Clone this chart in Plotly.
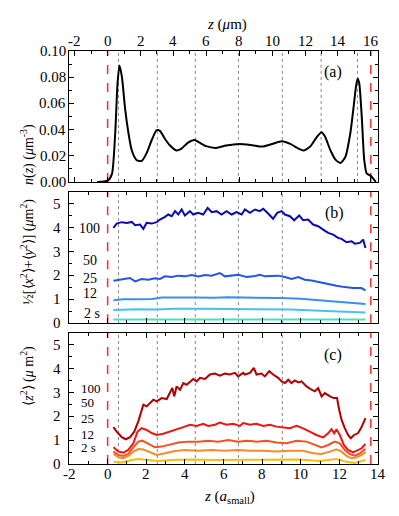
import plotly.graph_objects as go

# ---------------- data ----------------
# panel (a): density profile, z in micrometres
a_z = [-0.64, 0, 0.26, 0.46, 0.6, 0.72, 0.87, 1.07, 1.27, 1.47, 1.77, 2.07, 2.37, 2.68, 2.98, 3.18,
       3.48, 3.78, 4.18, 4.49, 4.89, 5.29, 5.59, 5.99, 6.6, 7.2, 8.0, 8.8, 9.4, 10.0, 10.6, 11.1,
       11.6, 11.9, 12.3, 12.7, 13.0, 13.2, 13.55, 13.85, 14.15, 14.45, 14.75, 14.95, 15.1, 15.2,
       15.3, 15.45, 15.6, 15.75, 15.95, 16.15, 16.3]
a_n = [0, 0.001, 0.006, 0.037, 0.075, 0.089, 0.08, 0.055, 0.037, 0.024, 0.0166, 0.016, 0.022, 0.032,
       0.0395, 0.039, 0.033, 0.028, 0.024, 0.0255, 0.030, 0.032, 0.030, 0.0273, 0.026, 0.0278, 0.029,
       0.028, 0.027, 0.029, 0.031, 0.029, 0.0255, 0.024, 0.0268, 0.034, 0.038, 0.035, 0.024, 0.017,
       0.0145, 0.019, 0.037, 0.057, 0.073, 0.079, 0.075, 0.0495, 0.0166, 0.0064, 0.005, 0.0025, 0]

# panel (b): lateral MSD, z in a_small
b100_z = [0.30, 0.47, 0.73, 0.99, 1.25, 1.42, 1.68, 1.85, 2.02, 2.28, 2.54, 2.71, 2.97, 3.14, 3.32,
          3.49, 3.66, 3.83, 4.00, 4.26, 4.43, 4.69, 4.95, 5.18, 5.39, 5.64, 5.90, 6.16, 6.42, 6.68,
          6.94, 7.11, 7.37, 7.63, 7.88, 8.06, 8.31, 8.57, 8.78, 9.01, 9.18, 9.44, 9.66, 9.92, 10.12,
          10.38, 10.64, 10.90, 11.16, 11.42, 11.68, 11.93, 12.11, 12.37, 12.63, 12.80, 13.06, 13.23, 13.35]
b100_v = [3.99, 4.17, 4.23, 4.20, 4.24, 4.10, 4.13, 3.95, 4.20, 4.17, 4.23, 4.34, 4.45, 4.55, 4.48,
          4.69, 4.55, 4.76, 4.51, 4.69, 4.55, 4.62, 4.55, 4.83, 4.65, 4.69, 4.55, 4.69, 4.55, 4.65,
          4.55, 4.76, 4.62, 4.76, 4.69, 4.79, 4.59, 4.37, 4.62, 4.69, 4.55, 4.48, 4.31, 4.51, 4.31,
          4.34, 4.13, 4.06, 3.92, 3.78, 3.71, 3.57, 3.53, 3.39, 3.43, 3.33, 3.36, 3.50, 3.15]
b50_z = [0.30, 0.73, 1.16, 1.42, 1.76, 2.11, 2.45, 2.71, 2.97, 3.32, 3.66, 4.00, 4.35, 4.69, 5.04,
         5.39, 5.81, 6.07, 6.42, 6.77, 7.07, 7.20, 7.54, 7.89, 8.15, 8.49, 8.84, 9.18, 9.53, 9.87,
         10.21, 10.56, 10.99, 11.42, 11.85, 12.28, 12.71, 13.14, 13.35]
b50_v = [1.78, 1.85, 1.89, 1.75, 1.85, 1.82, 1.88, 1.85, 1.96, 1.93, 1.99, 1.96, 2.02, 1.96, 2.02,
         1.99, 2.10, 1.96, 1.99, 2.03, 1.96, 1.93, 1.96, 2.03, 1.96, 1.96, 1.99, 1.93, 1.85, 1.93,
         1.82, 1.79, 1.71, 1.65, 1.57, 1.51, 1.47, 1.47, 1.37]
b25_z = [0.30, 0.8, 1.5, 2.3, 2.8, 3.5, 4.5, 5.5, 6.2, 7.0, 8.0, 9.0, 10.0, 11.0, 12.0, 12.8, 13.35]
b25_v = [0.96, 1.00, 1.00, 1.01, 1.07, 1.08, 1.07, 1.06, 1.09, 1.07, 1.07, 1.05, 1.02, 0.95, 0.87, 0.83, 0.80]
b12_z = [0.30, 1.5, 2.5, 3.5, 5.0, 6.5, 8.0, 9.5, 11.0, 12.3, 13.35]
b12_v = [0.55, 0.58, 0.57, 0.60, 0.60, 0.60, 0.59, 0.57, 0.52, 0.48, 0.45]
b2_z = [0.30, 3.0, 6.0, 9.0, 12.0, 13.35]
b2_v = [0.15, 0.15, 0.15, 0.15, 0.15, 0.15]

# panel (c): normal MSD, z in a_small
c100_z = [0.30, 0.47, 0.73, 0.94, 1.16, 1.38, 1.59, 1.73, 1.85, 2.02, 2.19, 2.37, 2.54, 2.80, 3.06,
          3.23, 3.35, 3.45, 3.57, 3.75, 3.92, 4.09, 4.26, 4.43, 4.61, 4.78, 5.04, 5.30, 5.56, 5.81,
          6.07, 6.33, 6.59, 6.76, 7.02, 7.11, 7.37, 7.57, 7.71, 7.97, 8.14, 8.37, 8.57, 8.83, 9.01,
          9.18, 9.35, 9.52, 9.69, 9.87, 10.04, 10.30, 10.56, 10.73, 10.90, 11.08, 11.25, 11.51,
          11.71, 11.88, 11.97, 12.11, 12.28, 12.45, 12.59, 12.76, 12.97, 13.15, 13.35]
c100_v = [1.55, 1.36, 1.13, 1.04, 1.13, 1.36, 1.79, 2.14, 2.49, 2.42, 2.56, 2.70, 2.63, 2.77, 2.73,
          2.98, 3.19, 2.84, 3.26, 3.12, 3.40, 3.33, 3.47, 3.57, 3.47, 3.62, 3.57, 3.76, 3.80, 3.71,
          3.80, 3.76, 3.83, 3.68, 3.83, 3.76, 3.83, 4.04, 3.76, 3.80, 3.68, 3.90, 3.76, 3.62, 3.47,
          3.40, 3.54, 3.40, 3.51, 3.43, 3.47, 3.26, 3.12, 3.05, 3.19, 2.84, 2.98, 2.84,
          2.77, 2.77, 2.35, 1.86, 1.51, 1.22, 1.08, 1.22, 1.30, 1.55, 1.93]
c50_z = [0.30, 0.56, 0.82, 1.07, 1.33, 1.55, 1.76, 2.02, 2.28, 2.54, 2.88, 3.23, 3.57, 3.92, 4.26,
         4.61, 4.95, 5.21, 5.56, 5.81, 6.16, 6.50, 6.85, 7.02, 7.37, 7.71, 8.06, 8.40, 8.74, 9.09,
         9.44, 9.78, 10.12, 10.47, 10.81, 11.16, 11.42, 11.59, 11.73, 11.85, 12.02, 12.23, 12.45,
         12.71, 12.97, 13.15, 13.35]
c50_v = [0.70, 0.52, 0.48, 0.59, 0.87, 1.36, 1.51, 1.43, 1.30, 1.22, 1.27, 1.36, 1.43, 1.55, 1.65,
         1.60, 1.69, 1.60, 1.65, 1.74, 1.65, 1.69, 1.60, 1.72, 1.65, 1.69, 1.60, 1.65, 1.57, 1.55,
         1.50, 1.60, 1.50, 1.36, 1.22, 1.12, 1.29, 1.46, 1.29, 1.46, 1.22, 0.80, 0.59,
         0.49, 0.59, 0.66, 0.84]
c25_z = [0.30, 0.56, 0.82, 1.07, 1.33, 1.59, 1.80, 2.11, 2.45, 2.80, 3.23, 3.66, 4.18, 4.69, 5.21,
         5.73, 6.25, 6.76, 7.20, 7.71, 8.23, 8.74, 9.26, 9.78, 10.30, 10.73, 11.08, 11.42, 11.76,
         12.02, 12.28, 12.54, 12.80, 13.06, 13.35]
c25_v = [0.52, 0.38, 0.34, 0.42, 0.70, 0.94, 0.98, 0.84, 0.70, 0.73, 0.80, 0.90, 0.94, 0.94, 0.98,
         0.94, 1.01, 0.94, 0.98, 0.94, 0.98, 0.90, 0.87, 0.98, 0.94, 0.80, 0.70, 0.80, 0.94,
         0.87, 0.59, 0.42, 0.35, 0.45, 0.63]
c12_z = [0.30, 0.56, 0.82, 1.07, 1.33, 1.59, 1.85, 2.19, 2.54, 2.97, 3.49, 4.00, 4.69, 5.38, 6.07,
         6.76, 7.37, 8.06, 8.74, 9.44, 10.12, 10.64, 11.08, 11.51, 11.85, 12.11, 12.37, 12.63,
         12.89, 13.15, 13.35]
c12_v = [0.42, 0.28, 0.24, 0.34, 0.52, 0.63, 0.61, 0.48, 0.38, 0.45, 0.55, 0.59, 0.56, 0.59, 0.56,
         0.59, 0.56, 0.56, 0.52, 0.56, 0.56, 0.45, 0.42, 0.52, 0.62, 0.52, 0.34, 0.24,
         0.28, 0.38, 0.49]
c2_z = [0.30, 0.73, 1.25, 1.59, 2.11, 2.62, 3.32, 4.35, 5.56, 6.76, 7.71, 8.92, 9.95, 10.99, 11.85,
        12.37, 12.80, 13.35]
c2_v = [0.10, 0.06, 0.17, 0.21, 0.17, 0.13, 0.17, 0.19, 0.17, 0.18, 0.19, 0.17, 0.19, 0.13, 0.21,
        0.09, 0.04, 0.17]

series_labels = ["100", "50", "25", "12", "2 s"]
b_label_x = [-1.57, -1.38, -1.38, -1.38, -1.31]
b_label_y = [3.96, 2.62, 1.89, 1.26, 0.42]
c_label_x = [-1.47, -1.47, -1.47, -1.47, -1.47]
c_label_y = [3.19, 2.59, 1.93, 1.25, 0.70]

# tick values / labels
top_ticks = [-2, 0, 2, 4, 6, 8, 10, 12, 14, 16]
bottom_ticks = [-2, 0, 2, 4, 6, 8, 10, 12, 14]
a_yticks = [0.00, 0.02, 0.04, 0.06, 0.08, 0.10]
bc_yticks = [0, 1, 2, 3, 4, 5]

# reference lines
UM_PER_A = 1.174                      # micrometres per a_small
wall_um = [0, 16]                     # red dashed (micrometres)
layer_um = [0.66, 3.02, 5.33, 7.95, 10.62, 12.98, 15.19]   # dotted layer positions
layer_count_bc = 5                    # panels (b) and (c) only show first five

x_range_a = [-2, 14]
x_range_um = [x_range_a[0] * UM_PER_A, x_range_a[1] * UM_PER_A]

# ---------------- styles ----------------
FONT = "Liberation Serif"
blue_cols = ["#0c0cae", "#2355e6", "#3c8ff2", "#48c0f2", "#3ee6c0"]
red_cols = ["#b00000", "#f01414", "#f25222", "#f68c2a", "#f8bc10"]


def F(size):
    return dict(family=FONT, size=size, color="black")


fig = go.Figure()

fig.add_trace(go.Scatter(x=a_z, y=a_n, mode="lines", line=dict(color="black", width=2, shape="spline", smoothing=0.6),
                         xaxis="x", yaxis="y", showlegend=False))

b_sets = [(b100_z, b100_v), (b50_z, b50_v), (b25_z, b25_v), (b12_z, b12_v), (b2_z, b2_v)]
c_sets = [(c100_z, c100_v), (c50_z, c50_v), (c25_z, c25_v), (c12_z, c12_v), (c2_z, c2_v)]
for (zz, vv), col in zip(b_sets, blue_cols):
    fig.add_trace(go.Scatter(x=zz, y=vv, mode="lines", line=dict(color=col, width=2),
                             xaxis="x2", yaxis="y2", showlegend=False))
for (zz, vv), col in zip(c_sets, red_cols):
    fig.add_trace(go.Scatter(x=zz, y=vv, mode="lines", line=dict(color=col, width=2),
                             xaxis="x3", yaxis="y3", showlegend=False))

shapes = []
dot = dict(color="#888888", width=1, dash="dot")
red = dict(color="#ff2a2a", width=1.5, dash="dash")
for p in layer_um:
    shapes.append(dict(type="line", xref="x", yref="y domain", x0=p, x1=p, y0=0, y1=1, line=dot, layer="below"))
for w in wall_um:
    shapes.append(dict(type="line", xref="x", yref="y domain", x0=w, x1=w, y0=0, y1=1, line=red, layer="below"))
for ax, yax in (("x2", "y2"), ("x3", "y3")):
    for p in layer_um[:layer_count_bc]:
        shapes.append(dict(type="line", xref=ax, yref=yax + " domain", x0=p / UM_PER_A, x1=p / UM_PER_A,
                           y0=0, y1=1, line=dot, layer="below"))
    for w in wall_um:
        shapes.append(dict(type="line", xref=ax, yref=yax + " domain", x0=w / UM_PER_A, x1=w / UM_PER_A,
                           y0=0, y1=1, line=red, layer="below"))

common = dict(showline=True, linecolor="black", linewidth=1, mirror="ticks", ticks="inside",
              ticklen=5, tickcolor="black", showticklabels=False, showgrid=False, zeroline=False)

annotations = []
# tick labels (drawn as text at the axes' own tick positions)
for t in top_ticks:
    annotations.append(dict(x=t, y=1, xref="x", yref="y domain", text=str(t), showarrow=False,
                            yanchor="bottom", yshift=0, font=F(15)))
for t in bottom_ticks:
    annotations.append(dict(x=t, y=0, xref="x3", yref="y3 domain", text=str(t), showarrow=False,
                            yanchor="top", yshift=0, font=F(15)))
for t in a_yticks:
    annotations.append(dict(x=0, y=t, xref="x domain", yref="y", text=f"{t:.2f}", showarrow=False,
                            xanchor="right", xshift=-1, font=F(15)))
for ax, yax in (("x2", "y2"), ("x3", "y3")):
    for t in bc_yticks:
        annotations.append(dict(x=0, y=t, xref=ax + " domain", yref=yax, text=str(t), showarrow=False,
                                xanchor="right", xshift=-6, font=F(15)))

# series labels
for lab, xv, yv in zip(series_labels, b_label_x, b_label_y):
    annotations.append(dict(x=xv, y=yv, xref="x2", yref="y2", text=lab, showarrow=False,
                            xanchor="left", font=F(14)))
for lab, xv, yv in zip(series_labels, c_label_x, c_label_y):
    annotations.append(dict(x=xv, y=yv, xref="x3", yref="y3", text=lab, showarrow=False,
                            xanchor="left", font=F(13)))
annotations += [
    dict(x=13.7, y=0.084, xref="x", yref="y", text="(a)", showarrow=False, font=F(16)),
    dict(x=11.77, y=4.63, xref="x2", yref="y2", text="(b)", showarrow=False, font=F(16)),
    dict(x=11.67, y=4.56, xref="x3", yref="y3", text="(c)", showarrow=False, font=F(16)),
]

# axis titles
annotations += [
    dict(x=0.511, y=1.0895, xref="paper", yref="paper", showarrow=False,
         text="<i>z</i> (<i>μ</i>m)", font=F(15)),
    dict(x=0.52, y=-0.107, xref="paper", yref="paper", showarrow=False,
         text="<i>z</i> (<i>a</i><sub>small</sub>)", font=F(15)),
    dict(x=-0.1715, y=0.828, xref="paper", yref="paper", textangle=-90, showarrow=False,
         text="<i>n</i>(<i>z</i>) (<i>μ</i>m<sup>-3</sup>)", font=F(14)),
    dict(x=-0.1715, y=0.513, xref="paper", yref="paper", textangle=-90, showarrow=False,
         text="½[⟨<i>x</i><sup>2</sup>⟩+⟨<i>y</i><sup>2</sup>⟩] (<i>μ</i>m<sup>2</sup>)", font=F(14)),
    dict(x=-0.1715, y=0.135, xref="paper", yref="paper", textangle=-90, showarrow=False,
         text="⟨<i>z</i><sup>2</sup>⟩ (<i>μ</i> m<sup>2</sup>)", font=F(14)),
]

# the page body adds an 8 px margin, so the figure is 8 px smaller and margins compensate
fig.update_layout(
    width=391, height=508, margin=dict(l=61, r=21, t=43, b=52),
    paper_bgcolor="white", plot_bgcolor="white",
    font=F(15),
    xaxis=dict(common, range=x_range_um, side="top", anchor="y", dtick=2, tick0=0,
               minor=dict(ticks="inside", ticklen=3, dtick=1, tick0=0, tickcolor="black")),
    yaxis=dict(common, domain=[0.683, 1], range=[0, 0.1], dtick=0.02,
               minor=dict(ticks="inside", ticklen=3, dtick=0.01, tickcolor="black")),
    xaxis2=dict(common, range=x_range_a, anchor="y2", dtick=2,
                minor=dict(ticks="inside", ticklen=3, dtick=1, tickcolor="black")),
    yaxis2=dict(common, domain=[0.341, 0.659], range=[0, 5.5], dtick=1,
                minor=dict(ticks="inside", ticklen=3, dtick=0.5, tickcolor="black")),
    xaxis3=dict(common, range=x_range_a, anchor="y3", dtick=2,
                minor=dict(ticks="inside", ticklen=3, dtick=1, tickcolor="black")),
    yaxis3=dict(common, domain=[0, 0.317], range=[0, 5.5], dtick=1,
                minor=dict(ticks="inside", ticklen=3, dtick=0.5, tickcolor="black")),
    shapes=shapes, annotations=annotations,
)

fig.write_html("out.html")
